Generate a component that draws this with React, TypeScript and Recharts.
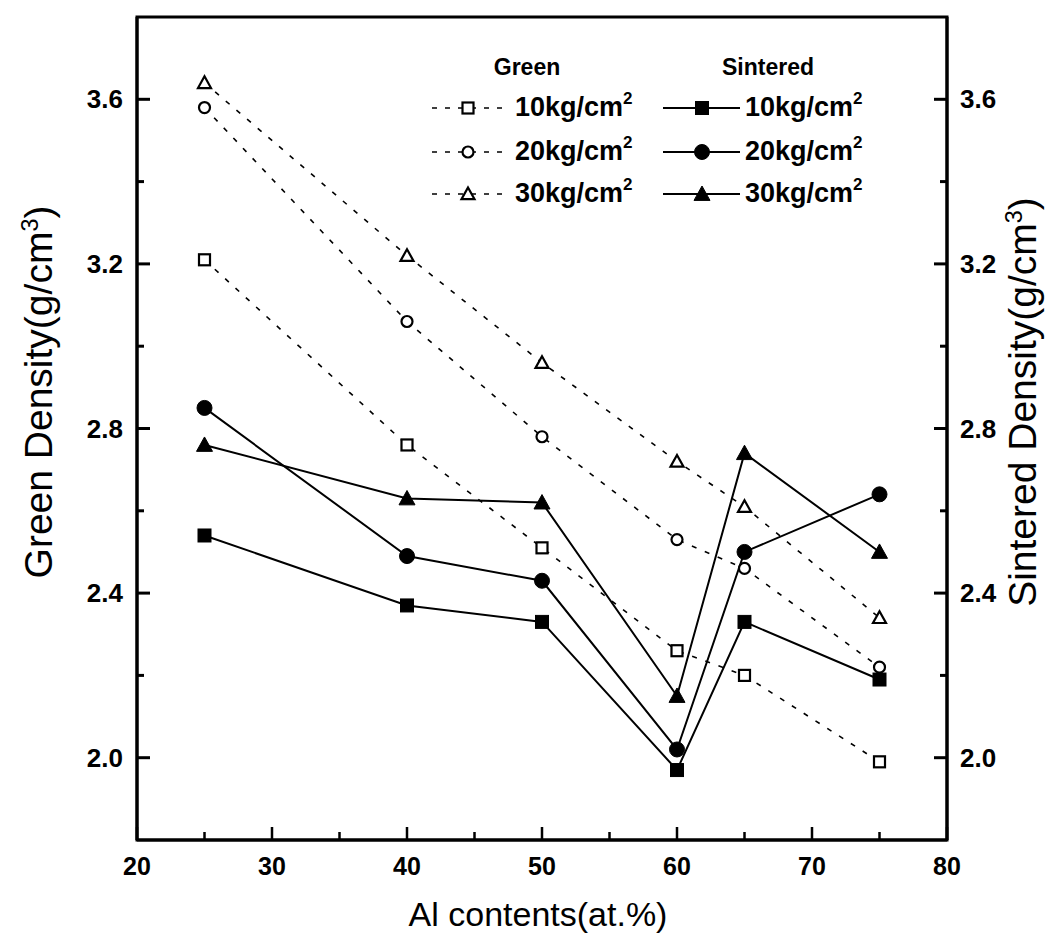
import React from 'react';
import {
  LineChart,
  Line,
  XAxis,
  YAxis,
  ReferenceArea,
  Legend,
} from 'recharts';

// Al content (at.%) at which every sample was measured
const alContent = [25, 40, 50, 60, 65, 75];

// Green density (g/cm3) by compaction pressure
const green10 = [3.21, 2.76, 2.51, 2.26, 2.2, 1.99];
const green20 = [3.58, 3.06, 2.78, 2.53, 2.46, 2.22];
const green30 = [3.64, 3.22, 2.96, 2.72, 2.61, 2.34];

// Sintered density (g/cm3) by compaction pressure
const sintered10 = [2.54, 2.37, 2.33, 1.97, 2.33, 2.19];
const sintered20 = [2.85, 2.49, 2.43, 2.02, 2.5, 2.64];
const sintered30 = [2.76, 2.63, 2.62, 2.15, 2.74, 2.5];

const xTicks = [20, 25, 30, 35, 40, 45, 50, 55, 60, 65, 70, 75, 80];
const yTicks = [2.0, 2.2, 2.4, 2.6, 2.8, 3.0, 3.2, 3.4, 3.6];
const pressures = ['10kg/cm', '20kg/cm', '30kg/cm'];

type Shape = 'square' | 'circle' | 'triangle';

interface SeriesDef {
  key: string;
  values: number[];
  shape: Shape;
  filled: boolean;
}

const series: SeriesDef[] = [
  { key: 'green10', values: green10, shape: 'square', filled: false },
  { key: 'green20', values: green20, shape: 'circle', filled: false },
  { key: 'green30', values: green30, shape: 'triangle', filled: false },
  { key: 'sintered10', values: sintered10, shape: 'square', filled: true },
  { key: 'sintered20', values: sintered20, shape: 'circle', filled: true },
  { key: 'sintered30', values: sintered30, shape: 'triangle', filled: true },
];

const data = alContent.map((al, i) => {
  const row: Record<string, number> = { al };
  series.forEach((s) => {
    row[s.key] = s.values[i];
  });
  return row;
});

const FONT = '"Liberation Sans", Arial, Helvetica, sans-serif';

const Marker = ({ cx, cy, shape, filled }: { cx: number; cy: number; shape: Shape; filled: boolean }) => {
  const fill = filled ? '#000' : '#fff';
  const sw = filled ? 1 : 2.2;
  if (shape === 'square') {
    const h = filled ? 6.5 : 5.5;
    return <rect x={cx - h} y={cy - h} width={h * 2} height={h * 2} fill={fill} stroke="#000" strokeWidth={sw} />;
  }
  if (shape === 'circle') {
    const r = filled ? 7.5 : 5.5;
    return <circle cx={cx} cy={cy} r={r} fill={fill} stroke="#000" strokeWidth={sw} />;
  }
  const s = filled ? 8 : 6.5;
  return (
    <polygon
      points={`${cx},${cy - s} ${cx + s},${cy + s * 0.8} ${cx - s},${cy + s * 0.8}`}
      fill={fill}
      stroke="#000"
      strokeWidth={sw}
      strokeLinejoin="miter"
    />
  );
};

const LeftTick = (props: any) => {
  const { x, y, payload } = props;
  const major = Math.round(payload.value * 10) % 4 === 0;
  return (
    <g>
      <line x1={x} y1={y} x2={x + (major ? 13 : 7)} y2={y} stroke="#000" strokeWidth={3} />
      {major && (
        <text x={x - 14} y={y + 9} textAnchor="end" fontSize={26} fontWeight="bold" fontFamily={FONT} fill="#000">
          {payload.value.toFixed(1)}
        </text>
      )}
    </g>
  );
};

const RightTick = (props: any) => {
  const { x, y, payload } = props;
  const major = Math.round(payload.value * 10) % 4 === 0;
  return (
    <g>
      <line x1={x} y1={y} x2={x - (major ? 13 : 7)} y2={y} stroke="#000" strokeWidth={3} />
      {major && (
        <text x={x + 13} y={y + 9} textAnchor="start" fontSize={26} fontWeight="bold" fontFamily={FONT} fill="#000">
          {payload.value.toFixed(1)}
        </text>
      )}
    </g>
  );
};

const BottomTick = (props: any) => {
  const { x, y, payload } = props;
  const major = payload.value % 10 === 0;
  return (
    <g>
      <line x1={x} y1={y} x2={x} y2={y - (major ? 13 : 8)} stroke="#000" strokeWidth={2.5} />
      {major && (
        <text x={x} y={y + 35} textAnchor="middle" fontSize={25} fontWeight="bold" fontFamily={FONT} fill="#000">
          {payload.value}
        </text>
      )}
    </g>
  );
};

// legend box sits at page (420, 40)
const LegendBox = () => {
  const ox = 420;
  const oy = 40;
  const rowsY = [108, 152, 194];
  const shapes: Shape[] = ['square', 'circle', 'triangle'];
  return (
    <svg width={440} height={180} style={{ overflow: 'visible' }}>
      <g transform={`translate(${-ox},${-oy})`} fontFamily={FONT} fill="#000">
        <text x={527} y={75} textAnchor="middle" fontSize={23} fontWeight="bold">Green</text>
        <text x={768} y={75} textAnchor="middle" fontSize={23} fontWeight="bold">Sintered</text>
        {rowsY.map((ry, i) => (
          <g key={i}>
            <line x1={432} y1={ry} x2={507} y2={ry} stroke="#000" strokeWidth={1.6} strokeDasharray="5 8" />
            <Marker cx={468} cy={ry} shape={shapes[i]} filled={false} />
            <text x={515} y={ry + 8} fontSize={27} fontWeight="bold">
              {pressures[i]}
              <tspan dy={-12} fontSize={17}>2</tspan>
            </text>
            <line x1={663} y1={ry} x2={740} y2={ry} stroke="#000" strokeWidth={2} />
            <Marker cx={702} cy={ry} shape={shapes[i]} filled />
            <text x={745} y={ry + 8} fontSize={27} fontWeight="bold">
              {pressures[i]}
              <tspan dy={-12} fontSize={17}>2</tspan>
            </text>
          </g>
        ))}
      </g>
    </svg>
  );
};

const titleStyle: React.CSSProperties = {
  position: 'absolute',
  whiteSpace: 'nowrap',
  fontFamily: FONT,
  color: '#000',
  lineHeight: 1,
};

const sup = <span style={{ fontSize: '0.6em', verticalAlign: 'super', lineHeight: 0 }}>3</span>;

export default function App() {
  return (
    <div style={{ position: 'absolute', left: 0, top: 0, width: 1057, height: 949, background: '#fff' }}>
      <LineChart
        width={1057}
        height={949}
        data={data}
        margin={{ top: 17, right: 50, bottom: 69, left: 77 }}
      >
        <XAxis
          dataKey="al"
          type="number"
          domain={[20, 80]}
          ticks={xTicks}
          interval={0}
          height={40}
          tickSize={0}
          tickMargin={0}
          tickLine={false}
          axisLine={{ stroke: '#000', strokeWidth: 3 }}
          tick={<BottomTick />}
        />
        <YAxis
          yAxisId="left"
          type="number"
          domain={[1.8, 3.8]}
          ticks={yTicks}
          interval={0}
          width={60}
          tickSize={0}
          tickMargin={0}
          tickLine={false}
          axisLine={{ stroke: '#000', strokeWidth: 3 }}
          tick={<LeftTick />}
          allowDataOverflow
        />
        <YAxis
          yAxisId="right"
          orientation="right"
          type="number"
          domain={[1.8, 3.8]}
          ticks={yTicks}
          interval={0}
          width={60}
          tickSize={0}
          tickMargin={0}
          tickLine={false}
          axisLine={{ stroke: '#000', strokeWidth: 3 }}
          tick={<RightTick />}
          allowDataOverflow
        />
        <ReferenceArea
          yAxisId="left"
          x1={20}
          x2={80}
          y1={1.8}
          y2={3.8}
          fill="none"
          fillOpacity={0}
          stroke="#000"
          strokeWidth={3}
          ifOverflow="visible"
        />
        {series.map((s) => (
          <Line
            key={s.key}
            yAxisId="left"
            dataKey={s.key}
            type="linear"
            stroke="#000"
            strokeWidth={s.filled ? 2 : 1.6}
            strokeDasharray={s.filled ? undefined : '5 9'}
            isAnimationActive={false}
            dot={(p: any) => (
              <Marker key={`${s.key}-${p.index}`} cx={p.cx} cy={p.cy} shape={s.shape} filled={s.filled} />
            )}
            activeDot={false}
          />
        ))}
        <Legend
          layout="horizontal"
          verticalAlign="middle"
          align="center"
          wrapperStyle={{ left: 420, top: 40, width: 440, height: 180 }}
          content={() => <LegendBox />}
        />
      </LineChart>
      <div style={{ ...titleStyle, fontSize: 39, left: 38, top: 392, transform: 'translate(-50%, -50%) rotate(-90deg)' }}>
        Green Density(g/cm{sup})
      </div>
      <div style={{ ...titleStyle, fontSize: 39, left: 1022, top: 402, transform: 'translate(-50%, -50%) rotate(-90deg)' }}>
        Sintered Density(g/cm{sup})
      </div>
      <div style={{ ...titleStyle, fontSize: 34, left: 538, top: 914, transform: 'translate(-50%, -50%)' }}>
        Al contents(at.%)
      </div>
    </div>
  );
}
